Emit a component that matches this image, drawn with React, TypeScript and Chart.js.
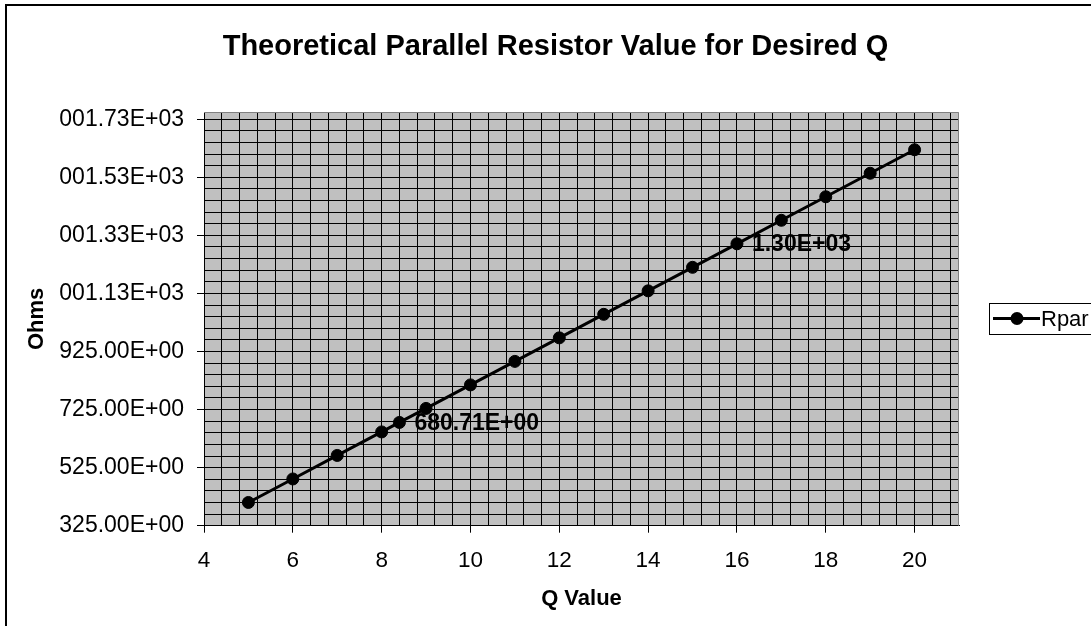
import React, { useEffect, useRef } from "react";
import { Chart, registerables } from "chart.js";

Chart.register(...registerables);

const FONT = "'Liberation Sans', Arial, sans-serif";

const chartTitle = "Theoretical Parallel Resistor Value for Desired Q";
const xAxisTitle = "Q Value";
const yAxisTitle = "Ohms";
const seriesName = "Rpar";

const qValues = [5, 6, 7, 8, 8.4, 9, 10, 11, 12, 13, 14, 15, 16, 17, 18, 19, 20];
const rparValues = [405, 486, 567, 648, 680.71, 729, 810, 891, 972, 1053, 1134, 1215, 1296, 1377, 1458, 1539, 1620];
const pointLabels = ["", "", "", "", "680.71E+00", "", "", "", "", "", "", "", "1.30E+03", "", "", "", ""];

const xMin = 4;
const xMax = 21;
const xMinorStep = 0.4;
const xMajorTicks = [4, 6, 8, 10, 12, 14, 16, 18, 20];
const xTickLabels = ["4", "6", "8", "10", "12", "14", "16", "18", "20"];

const yMin = 325;
const yMax = 1750;
const yMinorStep = 40;
const yMajorTicks = [325, 525, 725, 925, 1125, 1325, 1525, 1725];
const yTickLabels = [
  "325.00E+00",
  "525.00E+00",
  "725.00E+00",
  "925.00E+00",
  "001.13E+03",
  "001.33E+03",
  "001.53E+03",
  "001.73E+03",
];

const majorIndex = (list: number[], v: number) => list.findIndex((m) => Math.abs(m - v) < 1e-6);

const decorPlugin = {
  id: "decor",
  beforeDraw(chart: any) {
    const { ctx, chartArea: a } = chart;
    ctx.save();
    ctx.fillStyle = "#ffffff";
    ctx.fillRect(0, 0, chart.width, chart.height);
    ctx.fillStyle = "#C0C0C0";
    ctx.fillRect(a.left, a.top, a.right - a.left, a.bottom - a.top);
    ctx.restore();
  },
  afterDatasetsDraw(chart: any) {
    const { ctx } = chart;
    const meta = chart.getDatasetMeta(0);
    ctx.save();
    ctx.font = `bold 23px ${FONT}`;
    ctx.fillStyle = "#000";
    ctx.textAlign = "left";
    ctx.textBaseline = "middle";
    pointLabels.forEach((t, i) => {
      if (!t) return;
      const el = meta.data[i];
      ctx.fillText(t, el.x + 15, el.y + 1);
    });
    ctx.restore();
  },
  afterDraw(chart: any) {
    const { ctx, chartArea: a } = chart;
    ctx.save();
    // plot area top/right border
    ctx.strokeStyle = "#808080";
    ctx.lineWidth = 1;
    ctx.beginPath();
    ctx.moveTo(a.left, Math.round(a.top) + 0.5);
    ctx.lineTo(Math.round(a.right) - 0.5, Math.round(a.top) + 0.5);
    ctx.lineTo(Math.round(a.right) - 0.5, a.bottom);
    ctx.stroke();
    // outer chart border
    ctx.strokeStyle = "#000";
    ctx.lineWidth = 2;
    ctx.beginPath();
    ctx.moveTo(6, chart.height + 2);
    ctx.lineTo(6, 5);
    ctx.lineTo(chart.width + 2, 5);
    ctx.stroke();
    // title
    ctx.fillStyle = "#000";
    ctx.font = `bold 29px ${FONT}`;
    ctx.textAlign = "center";
    ctx.textBaseline = "middle";
    ctx.fillText(chartTitle, 555.5, 47);
    // legend
    ctx.strokeStyle = "#000";
    ctx.lineWidth = 1;
    ctx.strokeRect(989.5, 303.5, 200, 31);
    ctx.lineWidth = 3;
    ctx.beginPath();
    ctx.moveTo(993, 318.5);
    ctx.lineTo(1040, 318.5);
    ctx.stroke();
    ctx.beginPath();
    ctx.arc(1017, 318.5, 6.5, 0, Math.PI * 2);
    ctx.fill();
    ctx.font = `22px ${FONT}`;
    ctx.textAlign = "left";
    ctx.textBaseline = "middle";
    ctx.fillText(seriesName, 1041, 320);
    ctx.restore();
  },
};

export default function App() {
  const canvasRef = useRef<HTMLCanvasElement | null>(null);

  useEffect(() => {
    if (!canvasRef.current) return;
    Chart.defaults.font.family = FONT;
    const chart = new Chart(canvasRef.current, {
      type: "scatter",
      data: {
        datasets: [
          {
            label: seriesName,
            data: qValues.map((q, i) => ({ x: q, y: rparValues[i] })),
            showLine: true,
            borderColor: "#000",
            borderWidth: 3,
            pointRadius: 6,
            pointBorderWidth: 1,
            pointBackgroundColor: "#000",
            pointBorderColor: "#000",
            tension: 0,
          },
        ],
      },
      options: {
        responsive: false,
        animation: false,
        layout: { padding: { left: 24, right: 132, top: 112, bottom: 14 } },
        plugins: {
          legend: { display: false },
          title: { display: false },
          tooltip: { enabled: false },
        },
        scales: {
          x: {
            type: "linear",
            min: xMin,
            max: xMax,
            afterBuildTicks: (s: any) => {
              const t: any[] = [];
              for (let k = 0; xMin + k * xMinorStep < xMax - 1e-9; k++) {
                t.push({ value: +(xMin + k * xMinorStep).toFixed(4) });
              }
              s.ticks = t;
            },
            afterFit: (s: any) => {
              s.height = 86.3;
            },
            ticks: {
              autoSkip: false,
              maxRotation: 0,
              minRotation: 0,
              padding: 15,
              color: "#000",
              font: { size: 22.5 },
              callback: (v: any) => {
                const i = majorIndex(xMajorTicks, Number(v));
                return i >= 0 ? xTickLabels[i] : "";
              },
            },
            grid: {
              color: "#000",
              lineWidth: 1,
              drawTicks: true,
              tickLength: 7,
              tickColor: (c: any) =>
                c.tick && majorIndex(xMajorTicks, c.tick.value) >= 0 ? "#000" : "rgba(0,0,0,0)",
            },
            border: { color: "#000", width: 1 },
            title: {
              display: true,
              text: xAxisTitle,
              color: "#000",
              font: { size: 22, weight: "bold" },
              padding: { top: 0, bottom: 0 },
            },
          },
          y: {
            type: "linear",
            min: yMin,
            max: yMax,
            afterBuildTicks: (s: any) => {
              const t: any[] = [];
              for (let v = yMin; v <= yMajorTicks[yMajorTicks.length - 1] + 1e-9; v += yMinorStep) {
                t.push({ value: v });
              }
              s.ticks = t;
            },
            afterFit: (s: any) => {
              s.width = 180;
            },
            ticks: {
              autoSkip: false,
              padding: 13,
              color: "#000",
              font: { size: 23 },
              callback: (v: any) => {
                const i = majorIndex(yMajorTicks, Number(v));
                return i >= 0 ? yTickLabels[i] : "";
              },
            },
            grid: {
              color: "#000",
              lineWidth: 1,
              drawTicks: true,
              tickLength: 7,
              tickColor: (c: any) =>
                c.tick && majorIndex(yMajorTicks, c.tick.value) >= 0 ? "#000" : "rgba(0,0,0,0)",
            },
            border: { color: "#000", width: 1 },
            title: {
              display: true,
              text: yAxisTitle,
              color: "#000",
              font: { size: 22, weight: "bold" },
              padding: { top: 0, bottom: 0 },
            },
          },
        },
      },
      plugins: [decorPlugin],
    } as any);
    return () => chart.destroy();
  }, []);

  return (
    <div style={{ position: "fixed", left: 0, top: 0, width: 1091, height: 626, overflow: "hidden", background: "#fff" }}>
      <canvas ref={canvasRef} width={1091} height={626} style={{ display: "block" }} />
    </div>
  );
}
